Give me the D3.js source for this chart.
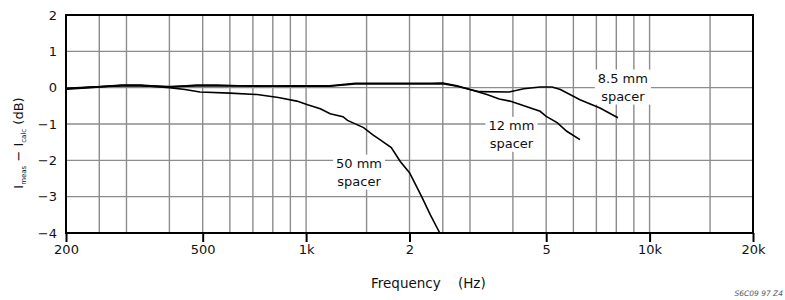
<!DOCTYPE html>
<html>
<head>
<meta charset="utf-8">
<script src="https://cdn.jsdelivr.net/npm/d3@7"></script>
<style>
  body { margin: 0; background: #fff; }
  svg { font-family: 'DejaVu Sans', sans-serif; }
</style>
</head>
<body>
<div class="canvas"></div>
<script>
// grid + axis ticks
const gridFreqs = [250, 300, 400, 500, 600, 700, 800, 900, 1000, 1500, 2000, 2500, 3000,
  4000, 5000, 6000, 7000, 8000, 9000, 10000, 15000]
const tickFreqs = [200, 500, 1000, 2000, 5000, 10000, 20000]
const tickLabels = ['200', '500', '1k', '2', '5', '10k', '20k']
const dbTicks = [-4, -3, -2, -1, 0, 1, 2]
const dbLabels = ['\u22124', '\u22123', '\u22122', '\u22121', '0', '1', '2']

// measured curves (Hz, dB)
const spacer85Freqs = [200, 235, 290, 330, 400, 480, 550, 700, 900, 1170, 1390, 2300, 2500,
  2750, 3000, 3200, 3900, 4300, 4800, 5200, 5500, 6270, 7170, 8090]
const spacer85Db = [-0.04, 0.0, 0.07, 0.07, 0.02, 0.07, 0.07, 0.04, 0.05, 0.05, 0.12, 0.12, 0.13,
  0.05, -0.05, -0.11, -0.12, -0.03, 0.02, 0.02, -0.05, -0.33, -0.56, -0.83]

const spacer12Freqs = [200, 235, 290, 330, 400, 480, 550, 700, 900, 1170, 1390, 2300, 2500,
  2750, 3000, 3360, 3650, 3920, 4800, 5000, 5380, 5740, 6270]
const spacer12Db = [-0.02, 0.02, 0.05, 0.05, 0.03, 0.05, 0.05, 0.05, 0.04, 0.04, 0.1, 0.1, 0.11,
  0.04, -0.05, -0.19, -0.31, -0.37, -0.65, -0.79, -0.96, -1.2, -1.43]

const spacer50Freqs = [200, 235, 290, 330, 400, 444, 491, 600, 720, 830, 940, 1010, 1100, 1175,
  1280, 1320, 1470, 1565, 1640, 1770, 1880, 2000, 2170, 2300, 2450]
const spacer50Db = [-0.03, 0.01, 0.06, 0.06, 0.0, -0.05, -0.12, -0.15, -0.19, -0.27, -0.37, -0.47,
  -0.58, -0.72, -0.8, -0.9, -1.1, -1.3, -1.43, -1.65, -2.03, -2.34, -3.0, -3.5, -4.0]

const curveLabels = [
  {lines: ['8.5 mm', 'spacer'], f: 8360, db: 0.14},
  {lines: ['12 mm', 'spacer'], f: 3960, db: -1.16},
  {lines: ['50 mm', 'spacer'], f: 1426, db: -2.2}
]

const margin = {top: 15, right: 32, bottom: 67, left: 66}
const size = {width: 785, height: 300}

const svg = d3.select('.canvas')
  .append('svg')
  .attr('width', size.width)
  .attr('height', size.height)

const x = d3.scaleLog()
  .domain([200, 20000])
  .range([margin.left, size.width - margin.right])

const y = d3.scaleLinear()
  .domain([-4, 2])
  .range([size.height - margin.bottom, margin.top])

const grid = svg.append('g')
  .attr('stroke', '#8c8c8c')
  .attr('stroke-width', 1.4)

grid.selectAll('line.v')
  .data(gridFreqs)
  .enter().append('line')
  .attr('class', 'v')
  .attr('x1', d => x(d)).attr('x2', d => x(d))
  .attr('y1', y(2)).attr('y2', y(-4))

grid.selectAll('line.h')
  .data(dbTicks.slice(1, -1))
  .enter().append('line')
  .attr('class', 'h')
  .attr('x1', x(200)).attr('x2', x(20000))
  .attr('y1', d => y(d)).attr('y2', d => y(d))

// curve labels sit on white boxes that break the grid
const labelGroup = svg.append('g')
curveLabels.forEach(label => {
  const g = labelGroup.append('g')
  const text = g.append('text')
    .attr('text-anchor', 'middle')
    .attr('font-size', 13)
    .attr('fill', '#111')
  label.lines.forEach((line, i) => {
    text.append('tspan')
      .attr('x', x(label.f))
      .attr('y', y(label.db) + i * 18)
      .text(line)
  })
  const box = text.node().getBBox()
  g.insert('rect', 'text')
    .attr('x', box.x - 3)
    .attr('y', box.y - 1)
    .attr('width', box.width + 6)
    .attr('height', box.height + 2)
    .attr('fill', '#fff')
})

const line = d3.line()
  .x(d => x(d[0]))
  .y(d => y(d[1]))

const curves = [
  d3.zip(spacer85Freqs, spacer85Db),
  d3.zip(spacer12Freqs, spacer12Db),
  d3.zip(spacer50Freqs, spacer50Db)
]

svg.append('g').selectAll('path')
  .data(curves)
  .enter().append('path')
  .attr('fill', 'none')
  .attr('stroke', '#000')
  .attr('stroke-width', 1.6)
  .attr('d', line)

// frame
svg.append('rect')
  .attr('x', x(200))
  .attr('y', y(2))
  .attr('width', x(20000) - x(200))
  .attr('height', y(-4) - y(2))
  .attr('fill', 'none')
  .attr('stroke', '#000')
  .attr('stroke-width', 2)

const xAxis = d3.axisBottom(x)
  .tickValues(tickFreqs)
  .tickFormat((d, i) => tickLabels[i])
  .tickSize(9)
  .tickPadding(3)

const xAxisGroup = svg.append('g')
  .attr('transform', `translate(0, ${y(-4)})`)
  .call(xAxis)
xAxisGroup.select('.domain').remove()
xAxisGroup.selectAll('line').attr('stroke', '#000').attr('stroke-width', 2)
xAxisGroup.selectAll('text')
  .attr('font-size', 13)
  .attr('font-family', 'DejaVu Sans, sans-serif')
  .attr('fill', '#111')

const yAxis = d3.axisLeft(y)
  .tickValues(dbTicks)
  .tickFormat((d, i) => dbLabels[i])
  .tickSize(0)
  .tickPadding(9)

const yAxisGroup = svg.append('g')
  .attr('transform', `translate(${x(200)}, 0)`)
  .call(yAxis)
yAxisGroup.select('.domain').remove()
yAxisGroup.selectAll('text')
  .attr('font-size', 13)
  .attr('font-family', 'DejaVu Sans, sans-serif')
  .attr('fill', '#111')

// axis titles
const yTitle = svg.append('text')
  .attr('transform', 'translate(23, 143) rotate(-90)')
  .attr('text-anchor', 'middle')
  .attr('font-size', 13)
  .attr('fill', '#111')
yTitle.append('tspan').text('I')
yTitle.append('tspan').attr('font-size', 7).attr('dy', 3).text('meas')
yTitle.append('tspan').attr('dy', -3).text(' \u2212 I')
yTitle.append('tspan').attr('font-size', 7).attr('dy', 3).text('calc')
yTitle.append('tspan').attr('dy', -3).text(' (dB)')

svg.append('text')
  .attr('x', 371)
  .attr('y', 288)
  .attr('font-size', 13.5)
  .attr('fill', '#111')
  .attr('xml:space', 'preserve')
  .text('Frequency    (Hz)')

svg.append('text')
  .attr('x', 783)
  .attr('y', 296)
  .attr('text-anchor', 'end')
  .attr('font-size', 7.5)
  .attr('font-style', 'italic')
  .attr('fill', '#555')
  .text('S6C09 97 Z4')
</script>
</body>
</html>
